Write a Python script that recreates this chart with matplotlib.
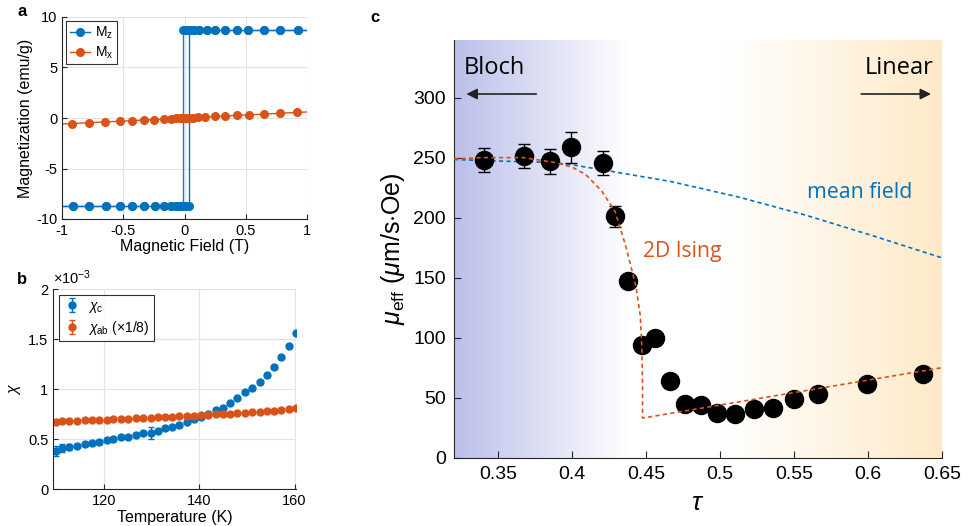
import numpy as np
import matplotlib
matplotlib.use('Agg')
import matplotlib.pyplot as plt
from matplotlib.colors import LinearSegmentedColormap

plt.rcParams['font.family'] = ['Liberation Sans', 'DejaVu Sans']
plt.rcParams['mathtext.fontset'] = 'custom'
plt.rcParams['mathtext.rm'] = 'Liberation Sans'
plt.rcParams['mathtext.it'] = 'Liberation Sans:italic'

blue = '#0072BD'
orange = '#D95319'
dark = '#262626'

################################################################################
# panel a: hysteresis

mz_up_field = [-1.0, -0.91, -0.78, -0.64, -0.53, -0.43, -0.33, -0.24, -0.17, -0.11,
               -0.07, -0.04, -0.01, 0.01, 0.038, 0.038, 0.076, 0.12, 0.18, 0.25,
               0.33, 0.43, 0.52, 0.65, 0.78, 0.93, 1.0]
mz_up = [-8.75]*15 + [8.75]*12
mz_down_field = [1.0, 0.93, 0.78, 0.65, 0.52, 0.43, 0.33, 0.25, 0.18, 0.12,
                 0.076, 0.05, 0.02, 0.0, -0.014, -0.014, -0.04, -0.07, -0.11, -0.17,
                 -0.24, -0.33, -0.43, -0.53, -0.64, -0.78, -0.91, -1.0]
mz_down = [8.75]*15 + [-8.75]*13

mx_field = [-1.0, -0.92, -0.78, -0.65, -0.53, -0.43, -0.33, -0.25, -0.17, -0.11,
            -0.07, -0.04, -0.02, 0.0, 0.01, 0.02, 0.04, 0.07, 0.11, 0.17,
            0.25, 0.33, 0.43, 0.53, 0.65, 0.78, 0.92, 1.0]
mx = [-0.6, -0.55, -0.47, -0.39, -0.32, -0.26, -0.2, -0.15, -0.1, -0.07,
      -0.04, -0.02, -0.01, 0.0, 0.01, 0.01, 0.02, 0.04, 0.07, 0.1,
      0.15, 0.2, 0.26, 0.32, 0.39, 0.47, 0.55, 0.6]

################################################################################
# panel b: susceptibility (units of 1e-3)

temp = [109.8, 111.2, 112.7, 114.3, 115.9, 117.4, 118.9, 120.5, 121.9, 123.5,
        125.0, 126.7, 128.2, 129.8, 131.2, 132.8, 134.2, 135.8, 137.3, 138.8,
        140.4, 141.9, 143.4, 145.0, 146.5, 148.0, 149.6, 151.1, 152.7, 154.2,
        155.7, 157.2, 158.8, 160.2]
chi_c = [0.383, 0.417, 0.423, 0.433, 0.453, 0.46, 0.477, 0.49, 0.5, 0.52,
         0.527, 0.54, 0.56, 0.56, 0.587, 0.61, 0.627, 0.643, 0.677, 0.703,
         0.723, 0.75, 0.793, 0.817, 0.86, 0.91, 0.97, 1.01, 1.07, 1.143,
         1.227, 1.32, 1.433, 1.56]
chi_c_err = [0.05, 0.04, 0.03, 0.02, 0.02, 0.02, 0.02, 0.02, 0.015, 0.015,
             0.015, 0.02, 0.02, 0.06, 0.015, 0.015, 0.015, 0.02, 0.015, 0.015,
             0.015, 0.015, 0.015, 0.015, 0.015, 0.015, 0.015, 0.015, 0.015, 0.015,
             0.015, 0.015, 0.015, 0.015]
chi_ab = [0.677, 0.68, 0.683, 0.686, 0.689, 0.692, 0.695, 0.698, 0.701, 0.704,
          0.707, 0.71, 0.713, 0.716, 0.719, 0.722, 0.726, 0.73, 0.734, 0.738,
          0.742, 0.746, 0.75, 0.754, 0.758, 0.762, 0.767, 0.772, 0.777, 0.782,
          0.788, 0.796, 0.806, 0.817]
chi_ab_err = [0.01]*34

################################################################################
# panel c: mobility

tau = [0.340, 0.367, 0.385, 0.399, 0.421, 0.429, 0.438, 0.447, 0.456, 0.466,
       0.476, 0.487, 0.498, 0.510, 0.523, 0.536, 0.550, 0.566, 0.599, 0.637]
mu = [248, 251.5, 247, 258.5, 245.5, 201, 147, 93.5, 99.5, 64,
      44.5, 44, 37.5, 36, 40.5, 41, 48.5, 53, 61, 69.5]
mu_err = [10, 10, 10.5, 13, 10, 9] + [0]*14

ising_tau = [0.32, 0.34, 0.367, 0.388, 0.40, 0.409, 0.42, 0.429, 0.436, 0.443,
             0.446, 0.447, 0.4475, 0.4475, 0.65]
ising_mu = [249, 250, 250, 246, 242, 236, 222, 205, 177, 143,
            118, 93, 60, 33, 75]

mf_tau = [0.32, 0.34, 0.385, 0.40, 0.422, 0.467, 0.513, 0.558, 0.603, 0.65]
mf_mu = [248.5, 247.5, 246, 244, 239.5, 230, 217, 202, 185, 166.5]

################################################################################

fig = plt.figure(figsize=(9.73, 5.26), dpi=100)

def matlab_axes(ax, fs):
  for s in ['top', 'right']:
    ax.spines[s].set_visible(False)
  for s in ['left', 'bottom']:
    ax.spines[s].set_color(dark)
  ax.tick_params(direction='in', length=3.5, colors=dark, labelsize=fs, labelcolor='black')

# a
ax = fig.add_axes([62/973, 1-219/526, 245/973, 202/526])
ax.grid(True, color='#e3e3e3', lw=0.8)
ax.set_axisbelow(True)
ax.plot(mz_up_field, mz_up, '-o', c=blue, ms=5.5, lw=1, markevery=slice(1, -1), label=r'M$_{\rm z}$')
ax.plot(mz_down_field, mz_down, '-o', c=blue, ms=5.5, lw=1, markevery=slice(1, -1), alpha=0.9)
ax.plot(mx_field, mx, '-o', c=orange, ms=5.5, lw=1, markevery=slice(1, -1), label=r'M$_{\rm x}$')
ax.set_xlim(-1, 1)
ax.set_ylim(-10, 10)
ax.set_xticks([-1, -0.5, 0, 0.5, 1])
ax.set_xticklabels(['-1', '-0.5', '0', '0.5', '1'])
ax.set_yticks([-10, -5, 0, 5, 10])
ax.set_yticklabels(['-10', '-5', '0', '5', '10'])
matlab_axes(ax, 10.5)
ax.set_xlabel('Magnetic Field (T)', fontsize=11.5, labelpad=1)
ax.set_ylabel('Magnetization (emu/g)', fontsize=11.5, labelpad=2)
leg = ax.legend(loc='upper left', fontsize=10, fancybox=False, edgecolor='black',
                handlelength=1.5, handletextpad=0.3, borderpad=0.25, labelspacing=0.25,
                borderaxespad=0.3)
leg.get_frame().set_linewidth(0.8)
fig.text(17/973, 1-12/526, 'a', fontsize=12, fontweight='bold', va='center')

# b
ax = fig.add_axes([53.3/973, 1-489.3/526, 242.7/973, 200/526])
ax.grid(True, color='#e3e3e3', lw=0.8)
ax.set_axisbelow(True)
ax.errorbar(temp, chi_c, yerr=chi_c_err, fmt='o', c=blue, ms=5, capsize=2, elinewidth=1,
            label=r'$\chi_{\rm c}$')
ax.errorbar(temp, chi_ab, yerr=chi_ab_err, fmt='o', c=orange, ms=5, capsize=2, elinewidth=1,
            label=r'$\chi_{\rm ab}$ ($\times$1/8)')
ax.set_xlim(109.3, 160.3)
ax.set_ylim(0, 2)
ax.set_xticks([120, 140, 160])
ax.set_yticks([0, 0.5, 1, 1.5, 2])
ax.set_yticklabels(['0', '0.5', '1', '1.5', '2'])
matlab_axes(ax, 10.5)
ax.set_xlabel('Temperature (K)', fontsize=11.5, labelpad=1)
ax.set_ylabel(r'$\chi$', fontsize=11.5, labelpad=4)
ax.text(0.0, 1.01, r'$\times$10$^{-3}$', transform=ax.transAxes, fontsize=10.5, va='bottom')
leg = ax.legend(loc='upper left', fontsize=10, fancybox=False, edgecolor='black',
                handlelength=1.3, handletextpad=0.5, borderpad=0.3, labelspacing=0.3,
                borderaxespad=0.4)
leg.get_frame().set_linewidth(0.8)
fig.text(17/973, 1-280/526, 'b', fontsize=12, fontweight='bold', va='center')

# c
ax = fig.add_axes([454/973, 1-457.7/526, 488/973, 417.7/526])
cmap = LinearSegmentedColormap.from_list('bg', [
  (0.0, '#bcc0ea'), (0.36, '#ffffff'), (0.55, '#ffffff'), (1.0, '#feeac9')])
ax.imshow(np.linspace(0, 1, 400)[None, :], cmap=cmap, aspect='auto',
          extent=[0.32, 0.65, 0, 348], zorder=0, interpolation='bilinear')
ax.plot(mf_tau, mf_mu, ls=(0, (2.5, 2)), c=blue, lw=1.2, zorder=2)
ax.errorbar(tau, mu, yerr=mu_err, fmt='o', c='black', ms=13, capsize=4, elinewidth=1,
            capthick=1, zorder=3)
ax.plot(ising_tau, ising_mu, ls=(0, (2.5, 2)), c=orange, lw=1.2, zorder=4)
ax.set_xlim(0.32, 0.65)
ax.set_ylim(0, 348)
ax.set_xticks([0.35, 0.4, 0.45, 0.5, 0.55, 0.6, 0.65])
ax.set_xticklabels(['0.35', '0.4', '0.45', '0.5', '0.55', '0.6', '0.65'])
ax.set_yticks([0, 50, 100, 150, 200, 250, 300])
matlab_axes(ax, 14)
ax.tick_params(length=5, pad=6)
ax.set_xlabel(r'$\tau$', fontsize=19, labelpad=6)
ax.set_ylabel(r'$\mu_{\rm eff}$ ($\mu$m/s$\cdot$Oe)', fontsize=18, labelpad=4)

txt_font = ['Open Sans', 'DejaVu Sans']
ax.text(0.3265, 325, 'Bloch', fontsize=17, family=txt_font, va='center', ha='left')
ax.text(0.6445, 325, 'Linear', fontsize=17, family=txt_font, va='center', ha='right')
ax.annotate('', xy=(0.3265, 303), xytext=(0.3775, 303),
            arrowprops=dict(arrowstyle='-|>', color='#222222', lw=1.2, mutation_scale=16))
ax.annotate('', xy=(0.6445, 303), xytext=(0.5935, 303),
            arrowprops=dict(arrowstyle='-|>', color='#222222', lw=1.2, mutation_scale=16))
ax.text(0.5945, 221, 'mean field', fontsize=15.4, family=txt_font, color=blue, va='center', ha='center')
ax.text(0.4745, 172, '2D Ising', fontsize=15.2, family=txt_font, color=orange, va='center', ha='center')
fig.text(370/973, 1-18/526, 'c', fontsize=12, fontweight='bold', va='center')

fig.savefig('out.png', dpi=100)
